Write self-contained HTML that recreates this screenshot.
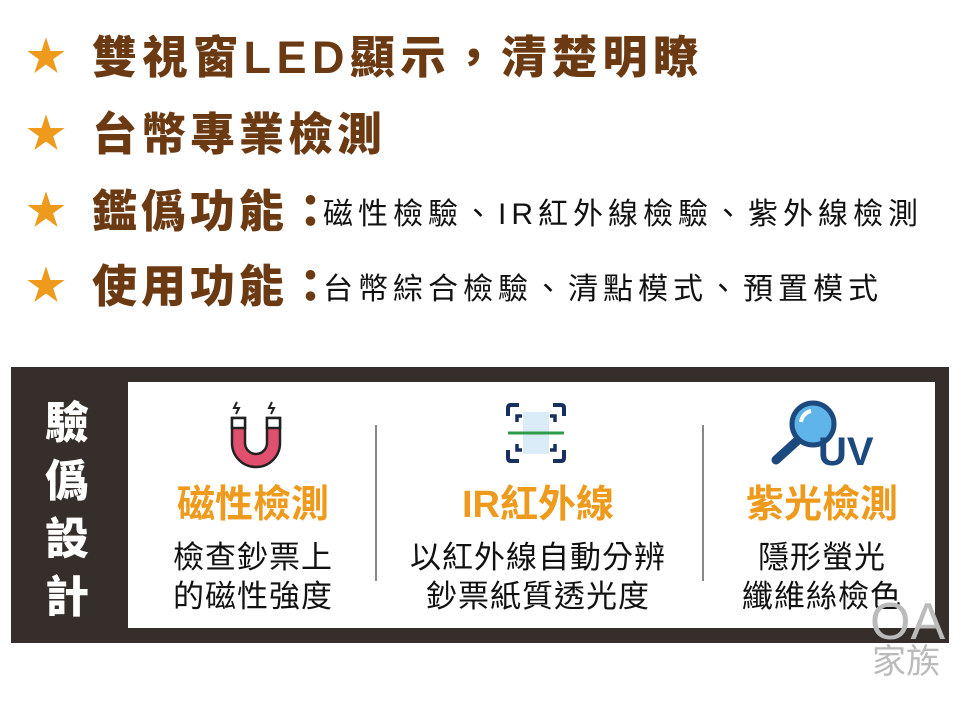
<!DOCTYPE html>
<html><head><meta charset="utf-8"><style>
body{margin:0;width:960px;height:708px;background:#fff;position:relative;overflow:hidden;font-family:"Liberation Sans","Noto Sans CJK TC",sans-serif}
.row{position:absolute;left:0;height:60px;display:flex;align-items:center;white-space:nowrap}
.star{position:absolute;left:26px;color:#ee9a1c;font-size:40px;line-height:1}
.h{position:absolute;left:92px;color:#6b3a12;font-size:45px;font-weight:900;letter-spacing:4px;line-height:1}
.b{font-size:30px;font-weight:400;color:#111;letter-spacing:5px;margin-left:-14px;vertical-align:middle}
.dark{position:absolute;left:11px;top:367px;width:938px;height:276px;background:#352e2b}
.white{position:absolute;left:128px;top:382px;width:807px;height:246px;background:#fff}
.side{position:absolute;left:42px;top:395px;width:50px;color:#fff;font-size:44px;font-weight:900;line-height:58px;text-align:center}
.div{position:absolute;top:425px;width:2px;height:156px;background:#888}
.col{position:absolute;top:480px;width:300px;text-align:center}
.t{color:#ee9a1c;font-size:38px;font-weight:700;line-height:50px}
.d{color:#111;font-size:31px;line-height:39px;letter-spacing:1px;margin-top:8px}
.wm{position:absolute;left:870px;color:#bbb;text-align:center}
</style></head><body>
<div class="row" style="top:27px"><span class="star">★</span><span class="h" style="letter-spacing:5.5px">雙視窗LED顯示，清楚明瞭</span></div>
<div class="row" style="top:104px"><span class="star">★</span><span class="h">台幣專業檢測</span></div>
<div class="row" style="top:181px"><span class="star">★</span><span class="h">鑑僞功能：<span class="b">磁性檢驗、IR紅外線檢驗、紫外線檢測</span></span></div>
<div class="row" style="top:256px"><span class="star">★</span><span class="h">使用功能：<span class="b">台幣綜合檢驗、清點模式、預置模式</span></span></div>

<div class="dark"></div>
<div class="white"></div>
<div class="side">驗<br>僞<br>設<br>計</div>
<div class="div" style="left:375px"></div>
<div class="div" style="left:702px"></div>

<svg style="position:absolute;left:224px;top:398px" width="64" height="74" viewBox="0 0 64 74">
<path d="M8 20 V45 A23 23 0 0 0 56 45 V20 H43 V45 A11 11 0 0 1 21 45 V20 Z" fill="#e0506e" stroke="#222" stroke-width="2.5"/>
<rect x="8" y="20" width="13" height="10" fill="#fff" stroke="#222" stroke-width="2.5"/>
<rect x="43" y="20" width="13" height="10" fill="#fff" stroke="#222" stroke-width="2.5"/>
<path d="M13 4 L10 10 H15 L12 16 M48 4 L45 10 H50 L47 16" stroke="#222" stroke-width="2" fill="none"/>
</svg>

<svg style="position:absolute;left:505px;top:402px" width="62" height="62" viewBox="0 0 62 62">
<rect x="18" y="10" width="26" height="42" fill="#d9ecf7"/>
<path d="M3 14 V6 Q3 3 6 3 H14 M48 3 H56 Q59 3 59 6 V14 M59 48 V56 Q59 59 56 59 H48 M14 59 H6 Q3 59 3 56 V48" stroke="#17305e" stroke-width="4" fill="none"/>
<path d="M12 20 V14 H17 M45 14 H50 V20 M12 42 V48 H17 M45 48 H50 V42" stroke="#17305e" stroke-width="3.5" fill="none"/>
<line x1="3" y1="31" x2="59" y2="31" stroke="#2e9b48" stroke-width="3"/>
</svg>

<svg style="position:absolute;left:768px;top:400px" width="112" height="70" viewBox="0 0 112 70">
<line x1="8" y1="60" x2="30" y2="40" stroke="#1c4a7e" stroke-width="9" stroke-linecap="round"/>
<circle cx="45" cy="24" r="21" fill="#5fb4ea" stroke="#1c4a7e" stroke-width="5"/>
<path d="M33 22 A13 13 0 0 1 43 11" stroke="#fff" stroke-width="4" fill="none"/>
<text x="50" y="65" font-family="Liberation Sans,sans-serif" font-weight="700" font-size="40" fill="#1c4a7e">UV</text>
</svg>

<div class="col" style="left:103px"><div class="t">磁性檢測</div><div class="d">檢查鈔票上<br>的磁性強度</div></div>
<div class="col" style="left:388px"><div class="t">IR紅外線</div><div class="d">以紅外線自動分辨<br>鈔票紙質透光度</div></div>
<div class="col" style="left:672px"><div class="t">紫光檢測</div><div class="d">隱形螢光<br>纖維絲檢色</div></div>

<div class="wm" style="top:596px;font-size:52px;line-height:52px">OA</div>
<div class="wm" style="top:642px;font-size:34px;line-height:40px;left:872px">家族</div>
</body></html>
